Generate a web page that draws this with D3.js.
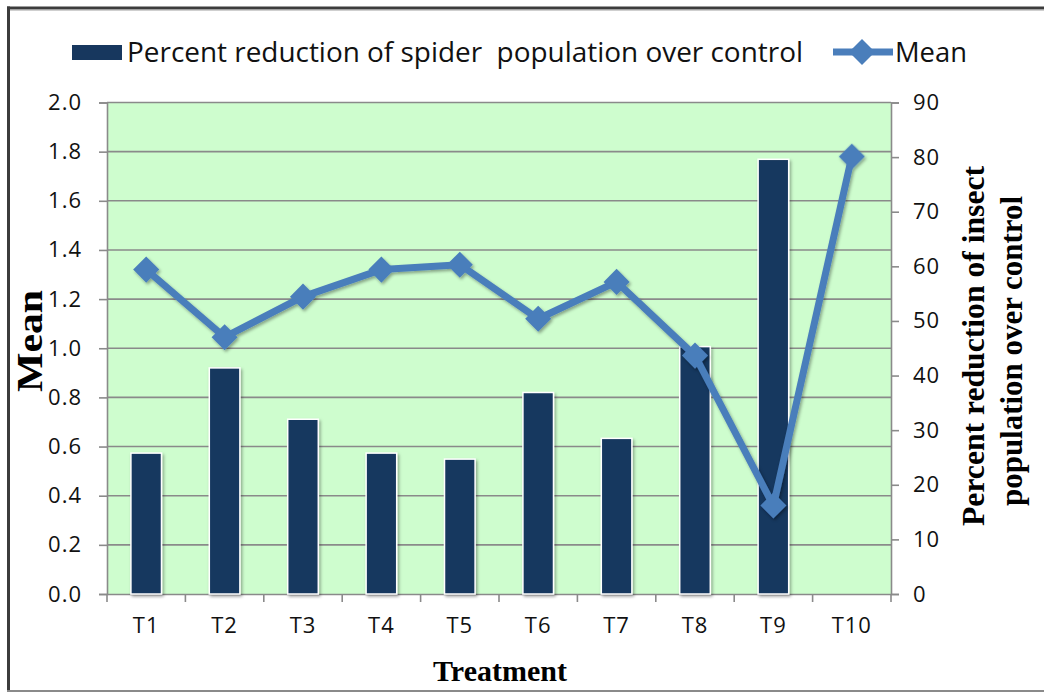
<!DOCTYPE html>
<html>
<head>
<meta charset="utf-8">
<script src="https://cdn.jsdelivr.net/npm/d3@7"></script>
<style>
  html, body { margin: 0; padding: 0; background: #ffffff; }
  svg { display: block; }
</style>
</head>
<body>
<svg id="chart" width="1044" height="692"></svg>
<script>
// Treatments on the x axis
const categories = ["T1", "T2", "T3", "T4", "T5", "T6", "T7", "T8", "T9", "T10"];
// Percent reduction of spider population over control (right axis, bars)
const spiderReduction = [25.8, 41.4, 32.0, 25.8, 24.7, 36.9, 28.5, 45.3, 79.6, null];
// Mean (left axis, line)
const meanValues = [1.32, 1.045, 1.21, 1.32, 1.34, 1.12, 1.27, 0.97, 0.36, 1.78];
// Axis ticks
const leftTicks = [0, 0.2, 0.4, 0.6, 0.8, 1.0, 1.2, 1.4, 1.6, 1.8, 2.0];
const rightTicks = [0, 10, 20, 30, 40, 50, 60, 70, 80, 90];

const W = 1044, H = 692;
const plot = { left: 107, right: 891, top: 102.5, bottom: 594 };

const svg = d3.select("#chart");

// drop shadow used by bars and line
const defs = svg.append("defs");
const shadow = defs.append("filter").attr("id", "shadow")
  .attr("x", "-20%").attr("y", "-20%").attr("width", "140%").attr("height", "140%");
shadow.append("feDropShadow").attr("dx", 1.5).attr("dy", 2).attr("stdDeviation", 1.5)
  .attr("flood-color", "#000").attr("flood-opacity", 0.35);

// outer frame
svg.append("rect").attr("x", 0).attr("y", 0).attr("width", W).attr("height", H).attr("fill", "#fff");
svg.append("line").attr("x1", 7).attr("x2", W).attr("y1", 8).attr("y2", 8)
  .attr("stroke", "#3c3c3c").attr("stroke-width", 3);
svg.append("line").attr("x1", 10).attr("x2", W).attr("y1", 10).attr("y2", 10)
  .attr("stroke", "#a0a0a0").attr("stroke-width", 1);
svg.append("line").attr("x1", 8.5).attr("x2", 8.5).attr("y1", 6.5).attr("y2", H)
  .attr("stroke", "#3c3c3c").attr("stroke-width", 3);
svg.append("line").attr("x1", 7).attr("x2", W).attr("y1", 691).attr("y2", 691)
  .attr("stroke", "#8a8a8a").attr("stroke-width", 2);

// scales
const x = d3.scaleBand().domain(categories).range([plot.left, plot.right]).paddingInner(0).paddingOuter(0);
const yLeft = d3.scaleLinear().domain([0, 2.0]).range([plot.bottom, plot.top]);
const yRight = d3.scaleLinear().domain([0, 90]).range([plot.bottom, plot.top]);

// plot background
svg.append("rect")
  .attr("x", plot.left).attr("y", plot.top)
  .attr("width", plot.right - plot.left).attr("height", plot.bottom - plot.top)
  .attr("fill", "#cefdce");

// gridlines (left axis)
svg.append("g").selectAll("line").data(leftTicks.filter(d => d > 0)).join("line")
  .attr("x1", plot.left).attr("x2", plot.right)
  .attr("y1", d => yLeft(d)).attr("y2", d => yLeft(d))
  .attr("stroke", "#8a8a8a").attr("stroke-width", 1.6);

const tickFont = "'Open Sans', 'DejaVu Sans', sans-serif";
const tickSize = 22;

function styleTicks(g) {
  g.selectAll(".tick text").attr("font-family", tickFont).attr("font-size", tickSize)
    .attr("letter-spacing", 1).attr("fill", "#111");
}

// left axis
const gL = svg.append("g").attr("transform", `translate(${plot.left},0)`)
  .call(d3.axisLeft(yLeft).tickValues(leftTicks).tickFormat(d3.format(".1f")).tickSize(8).tickPadding(17));
gL.select(".domain").attr("stroke", "#8a8a8a").attr("stroke-width", 1.6);
gL.selectAll(".tick line").attr("stroke", "#8a8a8a").attr("stroke-width", 1.6);
styleTicks(gL);

// right axis
const gR = svg.append("g").attr("transform", `translate(${plot.right},0)`)
  .call(d3.axisRight(yRight).tickValues(rightTicks).tickFormat(d3.format("d")).tickSize(8).tickPadding(14));
gR.select(".domain").attr("stroke", "#8a8a8a").attr("stroke-width", 1.6);
gR.selectAll(".tick line").attr("stroke", "#8a8a8a").attr("stroke-width", 1.6);
styleTicks(gR);

// bottom axis: labels at band centres, tick marks at band edges
const gB = svg.append("g").attr("transform", `translate(0,${plot.bottom})`)
  .call(d3.axisBottom(x).tickSize(0).tickPadding(23));
gB.select(".domain").attr("stroke", "#8a8a8a").attr("stroke-width", 1.6);
styleTicks(gB);
const edges = categories.map(c => x(c)).concat([x(categories[categories.length - 1]) + x.bandwidth()]);
gB.selectAll(".edge").data(edges).join("line").attr("class", "edge")
  .attr("x1", d => d).attr("x2", d => d).attr("y1", 0).attr("y2", 8)
  .attr("stroke", "#8a8a8a").attr("stroke-width", 1.6);

// bars
const barW = x.bandwidth() * 0.39;
svg.append("g").selectAll("rect")
  .data(categories.map((c, i) => ({ c, v: spiderReduction[i] })).filter(d => d.v != null))
  .join("rect")
  .attr("x", d => x(d.c) + (x.bandwidth() - barW) / 2)
  .attr("y", d => yRight(d.v))
  .attr("width", barW)
  .attr("height", d => yRight(0) - yRight(d.v))
  .attr("fill", "#17375e")
  .attr("stroke", "#ffffff").attr("stroke-width", 1.5)
  .attr("filter", "url(#shadow)");

// line with diamond markers
const pts = categories.map((c, i) => ({ c, v: meanValues[i] }));
const lineGen = d3.line().x(d => x(d.c) + x.bandwidth() / 2).y(d => yLeft(d.v));
const lineG = svg.append("g").attr("filter", "url(#shadow)");
lineG.append("path").datum(pts).attr("d", lineGen)
  .attr("fill", "none").attr("stroke", "#4a7ebb").attr("stroke-width", 7).attr("stroke-linejoin", "round");
const diamond = d3.symbol().type(d3.symbolSquare).size(340);
lineG.selectAll(".mk").data(pts).join("path").attr("class", "mk")
  .attr("d", diamond)
  .attr("transform", d => `translate(${x(d.c) + x.bandwidth() / 2},${yLeft(d.v)}) rotate(45)`)
  .attr("fill", "#4a7ebb");

// legend
const legend = svg.append("g");
legend.append("rect").attr("x", 72).attr("y", 45).attr("width", 50).attr("height", 15).attr("fill", "#17375e");
legend.append("text").attr("x", 127).attr("y", 62)
  .attr("font-family", tickFont).attr("font-size", 28).attr("fill", "#111")
  .attr("textLength", 676).attr("lengthAdjust", "spacingAndGlyphs")
  .style("white-space", "pre")
  .text("Percent reduction of spider  population over control");
legend.append("line").attr("x1", 833).attr("x2", 893).attr("y1", 52).attr("y2", 52)
  .attr("stroke", "#4a7ebb").attr("stroke-width", 7);
legend.append("path").attr("d", diamond).attr("transform", "translate(862,52) rotate(45)").attr("fill", "#4a7ebb");
legend.append("text").attr("x", 895).attr("y", 62)
  .attr("font-family", tickFont).attr("font-size", 28).attr("fill", "#111")
  .attr("textLength", 72).attr("lengthAdjust", "spacingAndGlyphs")
  .text("Mean");

// axis titles
const titleFont = "'Liberation Serif', 'Times New Roman', serif";
svg.append("text").attr("transform", "translate(42,341) rotate(-90)")
  .attr("text-anchor", "middle").attr("font-family", titleFont).attr("font-weight", "bold")
  .attr("font-size", 36).attr("fill", "#000")
  .attr("textLength", 102).attr("lengthAdjust", "spacingAndGlyphs")
  .text("Mean");
svg.append("text").attr("x", 500).attr("y", 681)
  .attr("text-anchor", "middle").attr("font-family", titleFont).attr("font-weight", "bold")
  .attr("font-size", 30).attr("fill", "#000").text("Treatment");
svg.append("text").attr("transform", "translate(984,346) rotate(-90)")
  .attr("text-anchor", "middle").attr("font-family", titleFont).attr("font-weight", "bold")
  .attr("font-size", 31).attr("fill", "#000")
  .attr("textLength", 360).attr("lengthAdjust", "spacingAndGlyphs")
  .text("Percent reduction of insect");
svg.append("text").attr("transform", "translate(1022,351) rotate(-90)")
  .attr("text-anchor", "middle").attr("font-family", titleFont).attr("font-weight", "bold")
  .attr("font-size", 31).attr("fill", "#000")
  .attr("textLength", 310).attr("lengthAdjust", "spacingAndGlyphs")
  .text("population over control");
</script>
</body>
</html>
